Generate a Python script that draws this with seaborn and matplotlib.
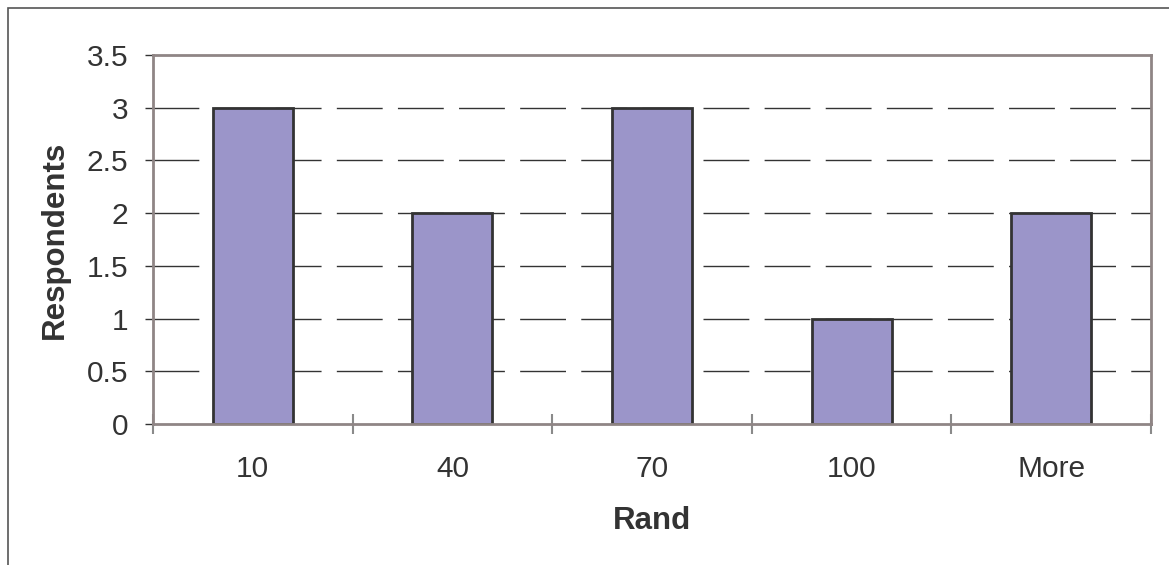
import matplotlib
matplotlib.use("Agg")
import matplotlib.pyplot as plt
from matplotlib.patches import Rectangle
from matplotlib.ticker import FixedLocator
import seaborn as sns
import pandas as pd

# Histogram bins and counts
bins = ["10", "40", "70", "100", "More"]
respondents = [3, 2, 3, 1, 2]
y_ticks = [0, 0.5, 1, 1.5, 2, 2.5, 3, 3.5]
y_tick_labels = ["0", "0.5", "1", "1.5", "2", "2.5", "3", "3.5"]

sns.set_theme(style="white")
plt.rcParams["font.family"] = ["Liberation Sans", "DejaVu Sans"]

TEXT = "#333333"
SPINE = "#8f8585"

fig = plt.figure(figsize=(11.69, 5.65), dpi=100)
ax = fig.add_axes([153 / 1169, 1 - 424 / 565, (1151 - 153) / 1169, (424 - 55) / 565])

df = pd.DataFrame({"Rand": bins, "Respondents": respondents})
sns.barplot(data=df, x="Rand", y="Respondents", order=bins, width=0.4,
            color="#9b95c9", saturation=1, edgecolor="#333333", linewidth=2.0,
            ax=ax, zorder=3)

ax.set_xlim(-0.5, len(bins) - 0.5)
ax.set_ylim(0, 3.5)

# dashed horizontal gridlines
for y in y_ticks[1:-1]:
    ax.axhline(y, color="#333333", lw=1.0, dashes=(33, 11), zorder=1)

ax.set_yticks(y_ticks)
ax.set_yticklabels(y_tick_labels)
ax.tick_params(axis="y", direction="out", length=6, width=1.0, color="#333333",
               labelsize=21.5, labelcolor=TEXT, pad=12, left=True)

# category labels centered, tick marks at bin boundaries
ax.set_xticks(range(len(bins)))
ax.set_xticklabels(bins)
ax.tick_params(axis="x", which="major", length=0, labelsize=21.5, labelcolor=TEXT, pad=22)
ax.xaxis.set_minor_locator(FixedLocator([i - 0.5 for i in range(len(bins) + 1)]))
ax.tick_params(axis="x", which="minor", direction="inout", length=14, width=1.5,
               color="#8a8a8a", bottom=True)

for side in ["top", "right", "left", "bottom"]:
    ax.spines[side].set_visible(True)
    ax.spines[side].set_color(SPINE)
    ax.spines[side].set_linewidth(2.0)
    ax.spines[side].set_zorder(4)

ax.set_xlabel("Rand", fontsize=22.5, fontweight="bold", color=TEXT, labelpad=17)
ax.set_ylabel("Respondents", fontsize=22.5, fontweight="bold", color=TEXT, labelpad=12)

# outer chart frame
fig.patches.append(Rectangle((8 / 1169, -0.1), 1.2, 1 - 8 / 565 + 0.1,
                             transform=fig.transFigure, fill=False,
                             edgecolor="#555555", lw=1.2))

fig.savefig("out.png", dpi=100, facecolor="white")
